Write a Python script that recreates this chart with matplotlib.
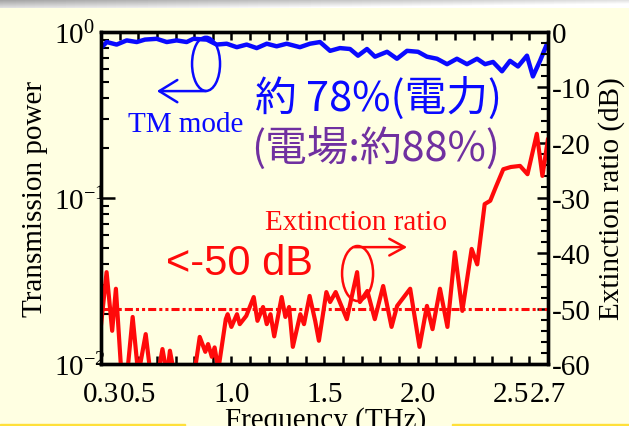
import matplotlib.pyplot as plt
import numpy as np
from matplotlib.patches import Ellipse, Rectangle
from matplotlib.ticker import LogLocator, MultipleLocator, NullFormatter

plt.rcParams['font.family'] = ['Liberation Serif', 'DejaVu Serif']
plt.rcParams['mathtext.fontset'] = 'custom'
plt.rcParams['mathtext.rm'] = 'Liberation Serif'
plt.rcParams['mathtext.it'] = 'Liberation Serif:italic'
plt.rcParams['mathtext.bf'] = 'Liberation Serif:bold'
plt.rcParams['axes.unicode_minus'] = False
plt.rcParams['lines.scale_dashes'] = False

# TM mode transmission power (left axis, log)
tm_freq = [0.304, 0.331, 0.384, 0.438, 0.492, 0.536, 0.599, 0.653, 0.706, 0.760,
           0.796, 0.868, 0.921, 0.975, 1.029, 1.082, 1.136, 1.190, 1.243, 1.297,
           1.368, 1.422, 1.476, 1.530, 1.583, 1.637, 1.680, 1.728, 1.771, 1.836,
           1.889, 1.943, 2.002, 2.050, 2.104, 2.158, 2.211, 2.265, 2.319, 2.362,
           2.405, 2.453, 2.496, 2.539, 2.587, 2.619, 2.657, 2.695]
tm_power = [0.81, 0.87, 0.84, 0.89, 0.87, 0.90, 0.91, 0.87, 0.89, 0.87,
            0.91, 0.90, 0.84, 0.85, 0.81, 0.84, 0.80, 0.85, 0.82, 0.85,
            0.81, 0.85, 0.87, 0.77, 0.80, 0.79, 0.72, 0.79, 0.71, 0.76,
            0.69, 0.77, 0.76, 0.71, 0.69, 0.64, 0.69, 0.64, 0.69, 0.64,
            0.66, 0.58, 0.67, 0.62, 0.72, 0.54, 0.67, 0.85]

# extinction ratio (right axis, dB)
er_freq = [0.30, 0.33, 0.36, 0.38, 0.41, 0.44, 0.47, 0.50, 0.54, 0.57,
           0.60, 0.63, 0.655, 0.67, 0.70, 0.75, 0.80, 0.83, 0.86, 0.875,
           0.895, 0.91, 0.93, 0.97, 0.98, 1.00, 1.03, 1.045, 1.08, 1.12,
           1.14, 1.17, 1.19, 1.21, 1.23, 1.27, 1.29, 1.31, 1.33, 1.37,
           1.39, 1.42, 1.45, 1.47, 1.51, 1.53, 1.56, 1.62, 1.675, 1.69,
           1.73, 1.77, 1.815, 1.86, 1.89, 1.96, 2.01, 2.05, 2.08, 2.12,
           2.16, 2.20, 2.24, 2.29, 2.32, 2.36, 2.39, 2.42, 2.46, 2.50,
           2.55, 2.59, 2.64, 2.67, 2.70]
er_db = [-53, -43.4, -54, -46.4, -62, -62, -51.5, -62, -54.6, -63,
         -63, -57.3, -62, -57.6, -63, -65, -62, -55.1, -57.8, -56.4,
         -58.7, -57, -61, -51.9, -51, -53.3, -51, -52.8, -51.3, -47.9,
         -52.2, -49.7, -52.8, -51, -55, -47.9, -51.5, -49.7, -56.9, -51,
         -52.8, -47.7, -52.2, -55.8, -47, -48.8, -47, -51.9, -43.4, -48.8,
         -46.8, -51.9, -45.9, -53.3, -49.5, -46.4, -56.9, -49.5, -53.7, -46.4,
         -53.3, -39.8, -50.4, -39.2, -42, -31.1, -30.5, -28, -24.8, -24.4,
         -24.2, -25.7, -18.4, -26, -19.3]
threshold_db = -50

freq_ticks = [0.3, 0.5, 1.0, 1.5, 2.0, 2.5, 2.7]
freq_labels = ['0.3', '0.5', '1.0', '1.5', '2.0', '2.5', '2.7']
power_ticks = [1e-2, 1e-1, 1e0]
power_labels = [r'$10^{-2}$', r'$10^{-1}$', r'$10^{0}$']
db_ticks = [-60, -50, -40, -30, -20, -10, 0]

BG = '#FFFFE2'
BLUE = '#0A0AFF'
RED = '#FF0A0A'
PURPLE = '#7030A0'
W, H = 629, 427


def px(x, y):
    return x / W, 1 - y / H


fig = plt.figure(figsize=(6.29, 4.27), dpi=100, facecolor=BG)

# grey slide band at the top and yellow strips at the bottom
band = fig.add_axes([0, 1 - 9 / H, 1, 9 / H])
gx = np.linspace(0.62, 0.86, 200)
gy = np.linspace(0.0, 0.25, 9)[:, None]
band.imshow(np.clip(gx[None, :] + gy, 0, 1), cmap='gray', vmin=0, vmax=1, aspect='auto')
band.axis('off')
fig.patches.append(Rectangle((0, 0), 185 / W, 2.5 / H, transform=fig.transFigure, color='#FFE03A'))
fig.patches.append(Rectangle((452 / W, 0), 1, 2.5 / H, transform=fig.transFigure, color='#FFE03A'))

ax = fig.add_axes([101 / W, 62 / H, 447 / W, 332 / H])
ax.set_facecolor(BG)
ax2 = ax.twinx()

ax.plot(tm_freq, tm_power, color=BLUE, lw=3.2, solid_joinstyle='round', solid_capstyle='round')
ax.set_yscale('log')
ax.set_ylim(1e-2, 1)
ax.set_xlim(0.3, 2.7)

ax2.plot(er_freq, er_db, color=RED, lw=3.0, solid_joinstyle='round', solid_capstyle='round')
ax2.axhline(threshold_db, color=RED, lw=2.2, ls=(0, (5.8, 2.2, 2.2, 2.2, 2.2, 2.2)))
ax2.set_ylim(-60, 0)

ax.set_xticks(freq_ticks, freq_labels)
ax.xaxis.set_minor_locator(MultipleLocator(0.1))
ax.tick_params(axis='x', which='both', direction='in', top=True, length=6, width=1.8,
               labelsize=21, pad=12)
ax.set_yticks(power_ticks, power_labels)
ax.yaxis.set_minor_locator(LogLocator(base=10, subs=np.arange(2, 10)))
ax.yaxis.set_minor_formatter(NullFormatter())
ax.tick_params(axis='y', which='major', direction='in', length=10, width=1.8,
               labelsize=21, pad=34, right=False)
ax.tick_params(axis='y', which='minor', direction='in', length=6, width=1.5, right=False)
for t in ax.get_yticklabels():
    t.set_horizontalalignment('left')

ax2.set_yticks(db_ticks)
ax2.yaxis.set_minor_locator(MultipleLocator(2))
ax2.tick_params(which='major', direction='in', length=8, width=1.8, labelsize=21, pad=3)
ax2.tick_params(which='minor', direction='in', length=5, width=1.5)

for a in (ax, ax2):
    for s in a.spines.values():
        s.set_linewidth(2.4)

ax.set_ylabel('Transmission power', fontsize=21, labelpad=4)
ax2.set_ylabel('Extinction ratio (dB)', fontsize=21, labelpad=5)
fig.text(*px(326, 428), 'Frequency (THz)', ha='center', va='baseline', fontsize=21)

# annotations
cjk = ['Noto Sans CJK JP', 'DejaVu Sans']
fig.text(*px(128, 132), 'TM mode', color=BLUE, fontsize=21, va='baseline')
fig.text(*px(255, 111), '約 78%(電力)', color=BLUE, fontsize=30, family=cjk, va='baseline')
fig.text(*px(251, 162), '(電場:約88%)', color=PURPLE, fontsize=30, family=cjk, va='baseline')
fig.text(*px(265, 230), 'Extinction ratio', color=RED, fontsize=21, va='baseline')
fig.text(*px(166, 275), '<-50 dB', color=RED, fontsize=30, family=['Liberation Sans'], va='baseline')

ax2.add_patch(Ellipse((0.235, 0.904), 0.0626, 0.163, transform=ax.transAxes,
                      fill=False, ec=BLUE, lw=1.8, clip_on=False))
ax2.annotate('', xy=(0.125, 0.822), xytext=(0.235, 0.822), xycoords='axes fraction',
             arrowprops=dict(arrowstyle='->,head_length=1.3,head_width=0.8', color=BLUE,
                             lw=1.8, shrinkA=0, shrinkB=0))
ax2.add_patch(Ellipse((0.574, 0.2726), 0.0694, 0.1657, transform=ax.transAxes,
                      fill=False, ec=RED, lw=1.8, clip_on=False))
ax2.annotate('', xy=(0.685, 0.352), xytext=(0.566, 0.352), xycoords='axes fraction',
             arrowprops=dict(arrowstyle='->,head_length=1.1,head_width=0.6', color=RED,
                             lw=1.8, shrinkA=0, shrinkB=0))

fig.savefig('out.png', dpi=100, facecolor=BG)
